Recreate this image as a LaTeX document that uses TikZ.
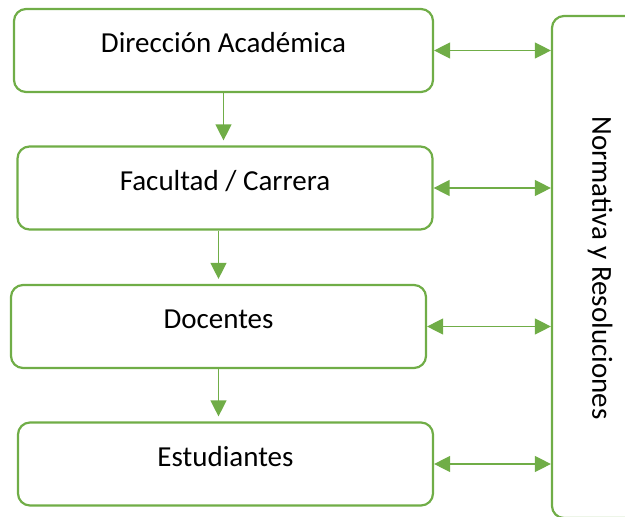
\documentclass[tikz,border=0pt]{standalone}
\usepackage{fontspec}
\setmainfont{Carlito}
\usetikzlibrary{arrows.meta,calc}
\definecolor{verde}{HTML}{70AD47}
\tikzset{
  org_box/.style = {draw=verde, line width=2.2pt, rounded corners=12pt, inner sep=0pt, minimum height=83pt, text height=20pt, text depth=16pt, align=center, font=\fontsize{29}{35}\selectfont},
  norm_box/.style = {draw=verde, line width=2.2pt, rounded corners=12pt, inner sep=0pt, minimum width=98pt, minimum height=502pt},
  norm_txt/.style = {rotate=-90, inner sep=0pt, font=\fontsize{29}{35}\selectfont},
  flecha/.style = {draw=verde, line width=1.3pt, -{Triangle[length=16pt,width=16pt]}, shorten >=5pt},
  flecha_d/.style = {draw=verde, line width=1.3pt, {Triangle[length=16pt,width=16pt]}-{Triangle[length=16pt,width=16pt]}}
}

\begin{document}
\begin{tikzpicture}[x=1pt, y=-1pt]
	\useasboundingbox (0,0) rectangle (625,517);
	\node [org_box, minimum width=419pt] (dir) at (223.5,50.5) {Dirección Académica};
	\node [org_box, minimum width=415pt] (fac) at (225,188) {Facultad / Carrera};
	\node [org_box, minimum width=415pt] (doc) at (218.5,326.5) {Docentes};
	\node [org_box, minimum width=415pt] (est) at (225.5,464) {Estudiantes};
	\node [norm_box] (norm) at (601,267) {};
	\node [norm_txt] (norm_t) at (600,268) {Normativa y Resoluciones};
	\draw [flecha] (dir.south) -- (dir.south |- fac.north);
	\draw [flecha] (doc.north |- fac.south) -- (doc.north);
	\draw [flecha] (doc.south) -- (doc.south |- est.north);
	\draw [flecha_d] (dir.east) -- (dir.east -| norm.west);
	\draw [flecha_d] (fac.east) -- (fac.east -| norm.west);
	\draw [flecha_d] (doc.east) -- (doc.east -| norm.west);
	\draw [flecha_d] (est.east) -- (est.east -| norm.west);
\end{tikzpicture}
\end{document}
